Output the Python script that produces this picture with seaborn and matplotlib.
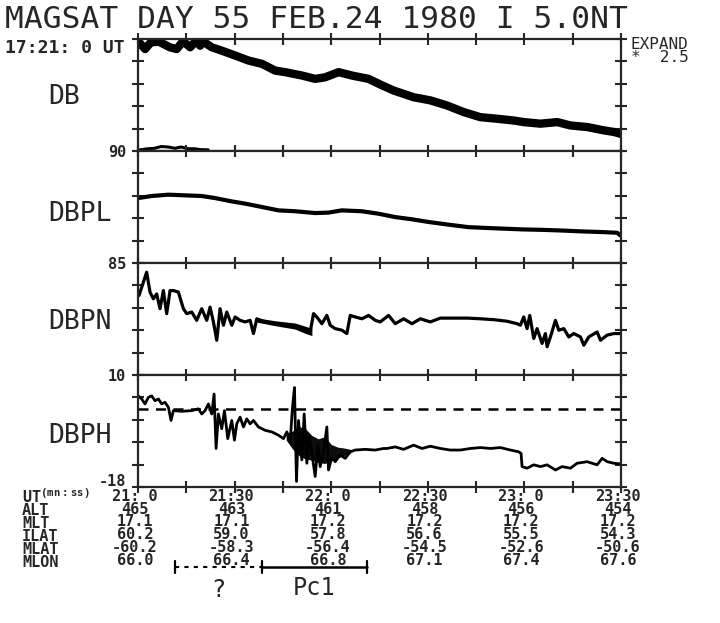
import numpy as np
import pandas as pd
import matplotlib
matplotlib.use("Agg")
import matplotlib.pyplot as plt
import matplotlib.transforms as mtransforms
import seaborn as sns

# ---------------- data (time in seconds after 17:21:00 UT, i.e. mm:ss 21:00) ----------------
tick_seconds = [0, 15, 30, 45, 60, 75, 90, 105, 120, 135, 150]
ut_labels = ["21: 0", "21:30", "22: 0", "22:30", "23: 0", "23:30"]
ut_seconds = [0, 30, 60, 90, 120, 150]

panel_names = ["DB", "DBPL", "DBPN", "DBPH"]
panel_bottoms = [90, 85, 10, -18]

# DB (offset above panel bottom, in tick units)
db_t = [0.6, 2.2, 4.0, 6.5, 9.9, 12.0, 14.0, 16.2, 18.0, 19.3, 19.8, 22.9, 26.0, 30.2, 34.3,
        38.5, 42.6, 45.7, 50.9, 55.0, 58.1, 62.3, 66.4, 71.6, 75.5, 79.4, 85.6, 90.8, 96.0,
        101.1, 106.3, 111.5, 116.7, 119.8, 125.0, 130.2, 134.3, 139.5, 144.7, 147.8, 149.8]
db_v = [4.81, 4.55, 4.85, 4.88, 4.63, 4.55, 4.9, 4.63, 4.92, 4.7, 4.93, 4.63, 4.48, 4.26, 4.04,
        3.89, 3.59, 3.52, 3.37, 3.22, 3.29, 3.52, 3.37, 3.22, 2.95, 2.70, 2.40, 2.26, 2.03,
        1.74, 1.51, 1.44, 1.36, 1.29, 1.22, 1.29, 1.14, 1.07, 0.92, 0.85, 0.77]
# wrapped-around part of DB at bottom of the panel
dbw_t = [0.6, 3.0, 5.1, 7.2, 9.3, 11.5, 13.4, 15.5, 17.6, 19.5, 21.8]
dbw_v = [0.05, 0.10, 0.12, 0.20, 0.18, 0.12, 0.18, 0.10, 0.10, 0.06, 0.05]

# DBPL
dbpl_t = [0.1, 4.2, 9.4, 14.6, 19.8, 23.9, 29.1, 33.3, 38.5, 43.6, 48.8, 55.0, 59.2, 63.3,
          69.5, 74.7, 79.9, 85.1, 90.3, 96.5, 102.7, 108.9, 114.1, 119.3, 125.5, 131.7,
          137.9, 144.2, 148.8, 149.8]
dbpl_v = [2.90, 2.99, 3.05, 3.02, 2.99, 2.90, 2.75, 2.65, 2.50, 2.35, 2.31, 2.23, 2.25, 2.35,
          2.31, 2.20, 2.05, 1.95, 1.83, 1.71, 1.60, 1.56, 1.53, 1.50, 1.48, 1.45,
          1.41, 1.38, 1.35, 1.23]

# DBPN
dbpn_t = [0.31, 1.66, 2.69, 3.73, 4.77, 5.80, 6.84, 7.88, 8.91, 9.95, 10.98, 12.54, 14.09,
          15.13, 16.68, 18.24, 19.79, 21.35, 22.38, 23.42, 24.46, 25.49, 26.53, 27.57, 29.12,
          30.16, 31.71, 33.27, 34.82, 35.86, 36.89, 39.48, 42.59, 45.70, 48.81, 51.92, 53.47,
          54.51, 55.54, 57.10, 58.65, 59.69, 61.25, 63.32, 64.87, 65.91, 67.46, 69.54, 71.61,
          73.68, 75.23, 77.82, 79.90, 82.49, 85.08, 87.67, 90.78, 93.89, 98.03, 102.18,
          106.32, 110.47, 114.61, 117.72, 118.76, 119.79, 120.83, 121.66, 122.90, 123.94,
          125.49, 126.53, 127.05, 128.08, 129.64, 130.68, 132.23, 133.79, 135.34, 137.41,
          138.45, 140.00, 142.59, 143.63, 145.70, 147.77, 149.85]
dbpn_v = [3.55, 4.14, 4.59, 3.70, 3.40, 3.62, 2.96, 3.77, 2.74, 3.77, 3.77, 3.70, 2.96,
          2.74, 2.81, 2.44, 2.96, 2.44, 3.03, 2.37, 1.55, 2.96, 2.22, 2.81, 2.22,
          2.59, 2.44, 2.37, 2.44, 1.85, 2.51, 2.37, 2.29, 2.25, 2.14, 1.99, 1.92,
          2.74, 2.59, 2.29, 2.66, 2.22, 2.07, 2.00, 1.85, 2.66, 2.59, 2.51, 2.66,
          2.44, 2.37, 2.66, 2.29, 2.51, 2.29, 2.51, 2.37, 2.54, 2.54, 2.54,
          2.51, 2.47, 2.40, 2.29, 2.22, 2.59, 2.07, 2.66, 1.63, 2.07,
          1.41, 1.85, 1.26, 1.70, 2.44, 2.00, 2.07, 1.70, 1.85, 1.70,
          1.33, 1.70, 1.92, 1.55, 1.78, 1.85, 1.85]
# thickened (noisy) band of DBPN before the jump at 21:55
dbpn_band_t = [36.9, 42.6, 48.8, 51.9, 54.0]
dbpn_band_hi = [2.55, 2.42, 2.32, 2.18, 2.08]
dbpn_band_lo = [2.36, 2.20, 2.05, 1.86, 1.76]

# DBPH
dbph_t = [0.10, 1.14, 2.18, 3.21, 4.25, 5.28, 6.32, 7.36, 8.39, 9.43, 10.26, 10.98, 13.58,
          16.68, 18.76, 19.79, 20.83, 21.87, 22.90, 23.63, 24.25, 24.97, 26.01, 26.84, 27.88,
          29.12, 29.95, 30.67, 31.71, 32.75, 33.78, 34.82, 35.86, 37.41, 39.48, 41.56, 43.63,
          45.18, 46.22, 47.26, 47.98, 48.60, 49.22, 49.85, 50.88, 51.61, 52.44, 53.16, 53.99,
          55.03, 55.86, 56.58, 57.62, 58.65, 59.17, 60.21, 61.25, 62.80, 64.35, 65.91, 67.46,
          70.57, 73.68, 76.27, 77.31, 79.90, 82.49, 85.60, 88.19, 90.78, 93.89, 96.99, 100.10,
          103.21, 106.32, 109.43, 112.54, 115.65, 118.24, 118.96, 119.28, 120.83, 122.90,
          124.98, 127.05, 129.64, 131.71, 134.30, 136.37, 139.48, 142.59, 144.15, 145.70,
          147.77, 149.85]
dbph_v = [4.07, 3.93, 3.71, 4.00, 4.07, 3.85, 3.93, 3.71, 3.78, 3.56, 2.97, 3.41, 3.38,
          3.41, 3.49, 3.26, 3.41, 3.71, 3.26, 4.15, 1.72, 3.26, 2.60, 3.41, 2.16,
          2.97, 2.09, 2.82, 3.12, 2.68, 3.04, 2.82, 2.97, 2.68, 2.53, 2.46, 2.31,
          2.16, 2.46, 2.01, 3.56, 4.44, 0.25, 2.97, 1.21, 3.26, 1.06, 2.31, 1.50,
          0.47, 1.87, 0.91, 1.57, 2.68, 0.76, 1.35, 1.13, 1.43, 1.28, 1.57, 1.65,
          1.68, 1.65, 1.72, 1.72, 1.79, 1.68, 1.87, 1.72, 1.82, 1.72, 1.65, 1.65,
          1.72, 1.76, 1.72, 1.76, 1.65, 1.57, 1.50, 0.91, 0.84, 0.99,
          0.91, 0.99, 0.76, 0.91, 0.84, 1.06, 1.13, 0.99, 1.28, 1.13,
          1.06, 1.03]
dbph_ref_level = 3.5
# envelope of the dense Pc1 oscillation in DBPH
dbph_env_t = [46.0, 48.0, 50.0, 52.0, 54.0, 56.0, 58.0, 60.0, 62.0, 64.0, 66.0]
dbph_env_hi = [2.40, 2.50, 2.70, 2.60, 2.30, 2.15, 2.25, 1.90, 1.78, 1.74, 1.68]
dbph_env_lo = [2.10, 1.70, 1.40, 1.25, 1.20, 1.10, 1.05, 1.15, 1.30, 1.40, 1.52]

# orbit table
row_names = ["ALT", "MLT", "ILAT", "MLAT", "MLON"]
alt = ["465", "463", "461", "458", "456", "454"]
mlt = ["17.1", "17.1", "17.2", "17.2", "17.2", "17.2"]
ilat = ["60.2", "59.0", "57.8", "56.6", "55.5", "54.3"]
mlat = ["-60.2", "-58.3", "-56.4", "-54.5", "-52.6", "-50.6"]
mlon = ["66.0", "66.4", "66.8", "67.1", "67.4", "67.6"]

# event intervals (seconds)
unknown_interval = [11.4, 38.5]
pc1_interval = [38.5, 71.2]

# ---------------- plotting ----------------
sns.set_style("ticks")
plt.rcParams["font.family"] = ["DejaVu Sans Mono"]
plt.rcParams["axes.linewidth"] = 1.6
plt.rcParams["mathtext.fontset"] = "custom"
plt.rcParams["mathtext.rm"] = "DejaVu Sans Mono:bold"
plt.rcParams["mathtext.default"] = "rm"

W, H = 720, 623
fig, axes = plt.subplots(4, 1, figsize=(W / 100, H / 100), dpi=100, sharex=True)
fig.subplots_adjust(left=138 / W, right=621 / W, top=1 - 39 / H, bottom=1 - 487 / H, hspace=0)

series = [(db_t, db_v, 6.0), (dbpl_t, dbpl_v, 3.0), (dbpn_t, dbpn_v, 2.3), (dbph_t, dbph_v, 2.0)]
label_y_px = [97, 214, 322, 436]
ylab_shift_px = [0, 0, 0, 7]

for i, ax in enumerate(axes):
    base = panel_bottoms[i]
    t, v, lw = series[i]
    df = pd.DataFrame({"t": t, "v": base + np.array(v)})
    sns.lineplot(data=df, x="t", y="v", ax=ax, color="black", lw=lw, sort=False,
                 estimator=None, solid_joinstyle="round", solid_capstyle="round")
    if i == 0:
        dfw = pd.DataFrame({"t": dbw_t, "v": base + np.array(dbw_v)})
        sns.lineplot(data=dfw, x="t", y="v", ax=ax, color="black", lw=2.2, sort=False,
                     estimator=None)
    if i == 2:
        ax.fill_between(dbpn_band_t, base + np.array(dbpn_band_lo),
                        base + np.array(dbpn_band_hi), color="black", lw=0)
    if i == 3:
        ax.axhline(base + dbph_ref_level, color="black", lw=1.8, ls=(0, (4, 3)))
        ax.fill_between(dbph_env_t, base + np.array(dbph_env_lo),
                        base + np.array(dbph_env_hi), color="black", alpha=0.95, lw=0)
    ax.set_xlim(0, 150)
    ax.set_ylim(base, base + 5)
    ax.set_yticks([base + k for k in range(6)])
    ax.set_yticklabels([str(base)] + [""] * 5)
    ax.set_xticks(tick_seconds)
    ax.set_xticklabels([""] * len(tick_seconds))
    ax.tick_params(axis="both", which="both", direction="inout", length=9, width=1.5,
                   top=True, right=True, bottom=True, left=True, labelsize=11, pad=4)
    for lab in ax.get_yticklabels():
        lab.set_fontweight("bold")
        if ylab_shift_px[i]:
            lab.set_transform(lab.get_transform() + mtransforms.ScaledTranslation(
                0, ylab_shift_px[i] / 100, fig.dpi_scale_trans))
    ax.set_xlabel("")
    ax.set_ylabel("")
    for s in ax.spines.values():
        s.set_linewidth(1.6)
        s.set_visible(True)
    fig.text(48 / W, 1 - label_y_px[i] / H, panel_names[i], fontsize=19,
             ha="left", va="center")

# title & annotations
fig.text(5 / W, 1 - 19 / H, "MAGSAT DAY 55 FEB.24 1980 I 5.0NT", fontsize=22.5,
         ha="left", va="center")
fig.text(5 / W, 1 - 48 / H, "17:21: 0 UT", fontsize=13, fontweight="bold",
         ha="left", va="center")
fig.text(631 / W, 1 - 51 / H, "EXPAND\n*  2.5", fontsize=11.5, ha="left", va="center",
         linespacing=0.85)

# orbit table below the bottom panel: one multi-line text per column
ax4 = axes[-1]
tr = mtransforms.blended_transform_factory(ax4.transData, fig.transFigure)
table_top_px, table_bottom_px = 497, 559.5
table_mid = 1 - (table_top_px + table_bottom_px) / 2 / H
fs_tab = 11
line_sp = 12.5 / (fs_tab * 100 / 72)
fig.text(22 / W, table_mid, "\n".join([r"UT$^{(mn:ss)}$"] + row_names), fontsize=fs_tab,
         fontweight="bold", ha="left", va="center", linespacing=line_sp)
for k, s in enumerate(ut_seconds):
    col = [ut_labels[k], alt[k], mlt[k], ilat[k], mlat[k], mlon[k]]
    ax4.text(s - 1, table_mid, "\n".join(col), transform=tr, fontsize=fs_tab,
             fontweight="bold", ha="center", va="center", multialignment="center",
             linespacing=line_sp)

# event brackets
by = 1 - 567 / H
ax4.plot(unknown_interval, [by, by], transform=tr, color="black", lw=1.5, ls=(0, (2, 2.5)),
         clip_on=False)
ax4.plot(pc1_interval, [by, by], transform=tr, color="black", lw=1.8, clip_on=False)
for s in [unknown_interval[0], pc1_interval[0], pc1_interval[1]]:
    ax4.plot([s, s], [by - 6 / H, by + 6 / H], transform=tr, color="black", lw=1.6,
             clip_on=False)
ax4.text(sum(unknown_interval) / 2, 1 - 590 / H, "?", transform=tr, fontsize=17,
         ha="center", va="center")
ax4.text(sum(pc1_interval) / 2, 1 - 588 / H, "Pc1", transform=tr, fontsize=17,
         ha="center", va="center")

fig.savefig("out.png", dpi=100)
